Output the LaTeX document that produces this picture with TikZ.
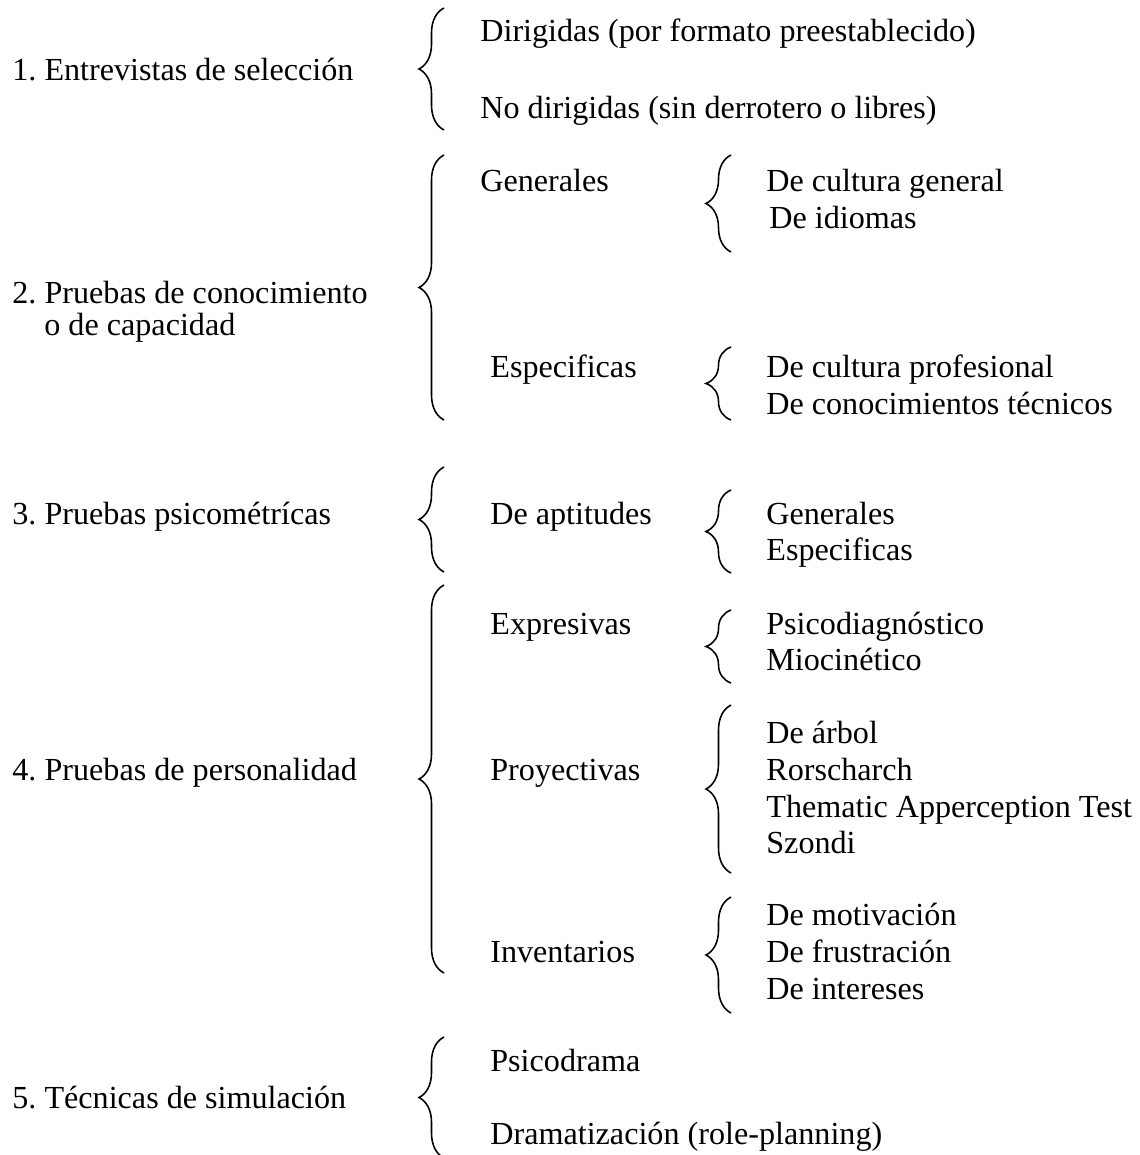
\documentclass[tikz,border=0pt]{standalone}
\usepackage{fontspec}
\setmainfont{Liberation Serif}
\usetikzlibrary{decorations.pathreplacing}
\tikzset{
  txt/.style={anchor=base west,inner sep=0pt,font=\fontsize{18.3}{22}\selectfont\frenchspacing},
  llave/.style={decorate,decoration={brace,amplitude=0.5cm},line width=0.9pt}
}
\begin{document}
\begin{tikzpicture}[x=0.02cm,y=-0.02cm]
\useasboundingbox (0,0) rectangle (1139,1155);

% primer nivel
\node[txt] (ent) at (12,81) {1. Entrevistas de selección};
\node[txt] (con) at (12,303) {2. Pruebas de conocimiento};
\node[txt] (cap) at (44,336) {o de capacidad};
\node[txt] (psi) at (12,524) {3. Pruebas psicométrícas};
\node[txt] (per) at (12,780) {4. Pruebas de personalidad};
\node[txt] (sim) at (12,1108) {5. Técnicas de simulación};

% segundo nivel
\node[txt] (dir) at (480,42) {Dirigidas (por formato preestablecido)};
\node[txt] (nodir) at (480,119) {No dirigidas (sin derrotero o libres)};
\node[txt] (gen) at (480,192) {Generales};
\node[txt] (esp) at (490,377) {Especificas};
\node[txt] (apt) at (490,524) {De aptitudes};
\node[txt] (expr) at (490,634) {Expresivas};
\node[txt] (proy) at (490,780) {Proyectivas};
\node[txt] (inv) at (490,962) {Inventarios};
\node[txt] (psd) at (490,1071) {Psicodrama};
\node[txt] (dram) at (490,1144) {Dramatización (role-planning)};

% tercer nivel
\node[txt] (gen1) at (766,192) {De cultura general};
\node[txt] (gen2) at (769,229) {De idiomas};
\node[txt] (esp1) at (766,377) {De cultura profesional};
\node[txt] (esp2) at (766,414) {De conocimientos técnicos};
\node[txt] (apt1) at (766,524) {Generales};
\node[txt] (apt2) at (766,560) {Especificas};
\node[txt] (expr1) at (766,634) {Psicodiagnóstico};
\node[txt] (expr2) at (766,670) {Miocinético};
\foreach \t [count=\i] in {De árbol,Rorscharch,Thematic Apperception Test,Szondi}
  \node[txt] (proy\i) at (766,707+36.7*\i) {\t};
\foreach \t [count=\i] in {De motivación,De frustración,De intereses}
  \node[txt] (inv\i) at (766,888+37*\i) {\t};

% llaves
\foreach \x/\a/\b in {444/8/130,444/155/420,444/467/572,444/585/973,444/1037/1158,
                      731/155/252,731/347/420,731/490/573,731/610/683,731/705/873,731/897/1013}
  \draw[llave] (\x,\b) -- (\x,\a);

\end{tikzpicture}
\end{document}
